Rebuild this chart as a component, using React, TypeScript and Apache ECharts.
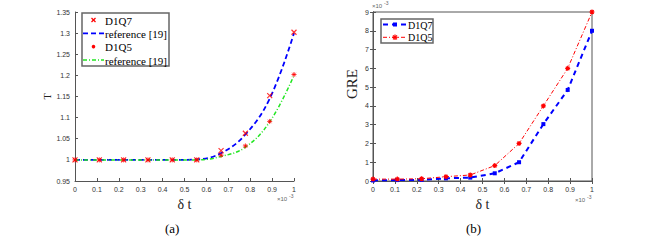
import React, { useEffect, useRef } from 'react';
import * as echarts from 'echarts';

// δt values (×10^-3)
const deltaT = [0, 0.111, 0.222, 0.333, 0.444, 0.556, 0.667, 0.778, 0.889, 1.0];
// (a) temperature T
const tauD1Q7 = [1, 1, 1, 1, 1, 1, 1.022, 1.063, 1.152, 1.302];
const tauRef7 = [1, 1, 1, 1, 1, 1.001, 1.016, 1.06, 1.145, 1.3];
const tauD1Q5 = [1, 1, 1, 1, 1, 1, 1.011, 1.033, 1.091, 1.202];
const tauRef5 = [1, 1, 1, 1, 1, 1, 1.008, 1.03, 1.09, 1.2];
// (b) GRE (×10^-3)
const greD1Q7 = [0.03, 0.05, 0.06, 0.14, 0.18, 0.41, 1.0, 3.03, 4.85, 8.0];
const greD1Q5 = [0.1, 0.1, 0.12, 0.23, 0.32, 0.82, 2.0, 4.0, 6.0, 9.0];

const legendA = ['D1Q7', 'reference [19]', 'D1Q5', 'reference [19]'];
const legendB = ['D1Q7', 'D1Q5'];

const SERIF = 'Liberation Serif';
const SANS = 'Liberation Sans';

const pairs = (ys: number[]) => deltaT.map((x, i) => [x, ys[i]]);
const fmt = (d: number) => (v: number) => String(+v.toFixed(d));

const X_MARK = 'path://M0,0L10,10M10,0L0,10';
const STAR_MARK = 'path://M5,0L5,10M0,5L10,5M1.5,1.5L8.5,8.5M8.5,1.5L1.5,8.5';

const BLUE = '#0000ff';
const RED = '#ff0000';
const GREEN = '#22e622';
const axisColor = '#555';
const labelColor = '#333';

const sampleLine = (x1: number, x2: number, y: number, stroke: string, lineWidth: number, lineDash: number[]) => ({
  type: 'line', shape: { x1, y1: y, x2, y2: y }, style: { stroke, lineWidth, lineDash }, silent: true,
});
const crossMark = (cx: number, cy: number, r: number, stroke: string) => [
  { type: 'line', shape: { x1: cx - r, y1: cy - r, x2: cx + r, y2: cy + r }, style: { stroke, lineWidth: 1.2 } },
  { type: 'line', shape: { x1: cx - r, y1: cy + r, x2: cx + r, y2: cy - r }, style: { stroke, lineWidth: 1.2 } },
];
const legendText = (x: number, y: number, text: string, fontSize: number) => ({
  type: 'text', x, y, style: { text, fontFamily: SERIF, fontSize, fill: '#000', verticalAlign: 'middle', align: 'left' },
});

export default function App() {
  const ref = useRef<HTMLDivElement>(null);
  useEffect(() => {
    if (!ref.current) return;
    const chart = echarts.init(ref.current, null, { renderer: 'svg' });
    const baseX = (gridIndex: number) => ({
      type: 'value' as const,
      gridIndex,
      min: 0,
      max: 1,
      interval: 0.1,
      axisLine: { lineStyle: { color: axisColor, width: 1 } },
      axisTick: { inside: true, length: 3, lineStyle: { color: axisColor } },
      axisLabel: { fontSize: 7, color: labelColor, fontFamily: SANS, margin: 5, formatter: fmt(1) },
      splitLine: { show: false },
      name: 'δ t',
      nameLocation: 'middle' as const,
      nameGap: 12,
      nameTextStyle: { fontFamily: SERIF, fontSize: 14, color: '#222' },
    });

    const legendGraphics: any[] = [
      // (a) legend
      { type: 'rect', shape: { x: 82, y: 13, width: 87, height: 53 }, style: { fill: '#fff', stroke: '#666', lineWidth: 1.5 }, z: 10 },
      ...crossMark(93.5, 20, 2, RED).map((e) => ({ ...e, z: 11 })),
      { ...legendText(105, 20.5, legendA[0], 11), z: 11 },
      { ...sampleLine(83, 104, 33.3, BLUE, 1.8, [5, 3]), z: 11 },
      { ...legendText(105, 33.8, legendA[1], 11), z: 11 },
      { type: 'circle', shape: { cx: 93.5, cy: 46.6, r: 1.8 }, style: { fill: RED }, z: 11 },
      { ...legendText(105, 47.1, legendA[2], 11), z: 11 },
      { ...sampleLine(83, 104, 60, GREEN, 1.5, [4, 2, 1, 2]), z: 11 },
      { ...legendText(105, 60.5, legendA[3], 11), z: 11 },
      // (b) legend
      { type: 'rect', shape: { x: 381, y: 19, width: 52, height: 24 }, style: { fill: '#fff', stroke: '#666', lineWidth: 1.5 }, z: 10 },
      { ...sampleLine(383, 407, 24.5, BLUE, 2, [5, 4]), z: 11 },
      { type: 'rect', shape: { x: 393, y: 22.5, width: 4, height: 4 }, style: { fill: BLUE }, z: 12 },
      { ...legendText(408, 25, legendB[0], 10), z: 11 },
      { ...sampleLine(383, 407, 37.3, RED, 1, [4, 2, 1, 2]), z: 11 },
      ...crossMark(395, 37.3, 2, RED).map((e) => ({ ...e, z: 12 })),
      { type: 'line', shape: { x1: 392.2, y1: 37.3, x2: 397.8, y2: 37.3 }, style: { stroke: RED, lineWidth: 1.2 }, z: 12 },
      { type: 'line', shape: { x1: 395, y1: 34.5, x2: 395, y2: 40.1 }, style: { stroke: RED, lineWidth: 1.2 }, z: 12 },
      { ...legendText(408, 37.8, legendB[1], 10), z: 11 },
    ];

    const option: any = {
      animation: false,
      backgroundColor: '#fff',
      grid: [
        { left: 75, top: 12, width: 219, height: 169 },
        { left: 373, top: 12, width: 219, height: 169, show: true, borderColor: axisColor, borderWidth: 1 },
      ],
      xAxis: [
        baseX(0),
        baseX(1),
        {
          type: 'value', gridIndex: 1, position: 'top', min: 0, max: 1, interval: 0.1,
          axisLine: { show: true, lineStyle: { color: axisColor } },
          axisTick: { inside: true, length: 3, lineStyle: { color: axisColor } },
          axisLabel: { show: false }, splitLine: { show: false },
        },
      ],
      yAxis: [
        {
          type: 'value', gridIndex: 0, min: 0.95, max: 1.35, interval: 0.05,
          axisLine: { show: true, lineStyle: { color: axisColor } },
          axisTick: { show: true, inside: true, length: 3, lineStyle: { color: axisColor } },
          axisLabel: { fontSize: 7, color: labelColor, fontFamily: SANS, margin: 5, formatter: fmt(2) },
          splitLine: { show: false },
          name: 'T', nameLocation: 'middle', nameGap: 22, nameRotate: 90,
          nameTextStyle: { fontFamily: SERIF, fontSize: 10, color: '#222' },
        },
        {
          type: 'value', gridIndex: 1, min: 0, max: 9, interval: 1,
          axisLine: { show: true, lineStyle: { color: axisColor } },
          axisTick: { show: true, inside: true, length: 3, lineStyle: { color: axisColor } },
          axisLabel: { fontSize: 7, color: labelColor, fontFamily: SANS, margin: 4 },
          splitLine: { show: false },
          name: 'GRE', nameLocation: 'middle', nameGap: 14, nameRotate: 90,
          nameTextStyle: { fontFamily: SERIF, fontSize: 15, color: '#222', padding: [0, 0, 0, 25] },
        },
        {
          type: 'value', gridIndex: 1, position: 'right', min: 0, max: 9, interval: 1,
          axisLine: { show: true, lineStyle: { color: axisColor } },
          axisTick: { show: true, inside: true, length: 3, lineStyle: { color: axisColor } },
          axisLabel: { show: false }, splitLine: { show: false },
        },
      ],
      series: [
        {
          name: 'reference [19] (D1Q7)', type: 'line', xAxisIndex: 0, yAxisIndex: 0,
          data: pairs(tauRef7), smooth: 0.4, symbol: 'none',
          lineStyle: { color: BLUE, width: 1.8, type: [5, 3] }, z: 2,
        },
        {
          name: 'reference [19] (D1Q5)', type: 'line', xAxisIndex: 0, yAxisIndex: 0,
          data: pairs(tauRef5), smooth: 0.4, symbol: 'none',
          lineStyle: { color: GREEN, width: 1.5, type: [4, 2, 1, 2] }, z: 2,
        },
        {
          name: 'D1Q7', type: 'scatter', xAxisIndex: 0, yAxisIndex: 0,
          data: pairs(tauD1Q7), symbol: X_MARK, symbolSize: 5,
          itemStyle: { color: RED, borderColor: RED, borderWidth: 1.2 }, z: 3,
        },
        {
          name: 'D1Q5', type: 'scatter', xAxisIndex: 0, yAxisIndex: 0,
          data: pairs(tauD1Q5), symbol: STAR_MARK, symbolSize: 5,
          itemStyle: { color: RED, borderColor: RED, borderWidth: 1 }, z: 3,
        },
        {
          name: 'GRE D1Q7', type: 'line', xAxisIndex: 1, yAxisIndex: 1,
          data: pairs(greD1Q7), symbol: 'rect', symbolSize: 4, showSymbol: true,
          lineStyle: { color: BLUE, width: 2, type: [5, 4] },
          itemStyle: { color: BLUE, borderWidth: 0 },
        },
        {
          name: 'GRE D1Q5', type: 'line', xAxisIndex: 1, yAxisIndex: 1,
          data: pairs(greD1Q5), symbol: STAR_MARK, symbolSize: 5, showSymbol: true,
          lineStyle: { color: RED, width: 1, type: [4, 2, 1, 2] },
          itemStyle: { color: RED, borderColor: RED, borderWidth: 1.2 },
        },
      ],
      graphic: [
        ...legendGraphics,
        { type: 'text', left: 277, top: 196, style: { text: '×10', fontSize: 6, fontFamily: SANS, fill: '#666' } },
        { type: 'text', left: 289, top: 193, style: { text: '-3', fontSize: 5, fontFamily: SANS, fill: '#666' } },
        { type: 'text', left: 575, top: 197, style: { text: '×10', fontSize: 6, fontFamily: SANS, fill: '#666' } },
        { type: 'text', left: 587, top: 194, style: { text: '-3', fontSize: 5, fontFamily: SANS, fill: '#666' } },
        { type: 'text', left: 372, top: 3, style: { text: '×10', fontSize: 6, fontFamily: SANS, fill: '#666' } },
        { type: 'text', left: 384, top: 0, style: { text: '-3', fontSize: 5, fontFamily: SANS, fill: '#666' } },
        { type: 'text', left: 165, top: 222, style: { text: '(a)', fontSize: 13, fontFamily: SERIF, fill: '#000' } },
        { type: 'text', left: 466, top: 222, style: { text: '(b)', fontSize: 13, fontFamily: SERIF, fill: '#000' } },
      ],
    };
    chart.setOption(option);
    return () => chart.dispose();
  }, []);
  return (
    <div
      ref={ref}
      style={{ position: 'absolute', left: 0, top: 0, width: 647, height: 247 }}
    />
  );
}
